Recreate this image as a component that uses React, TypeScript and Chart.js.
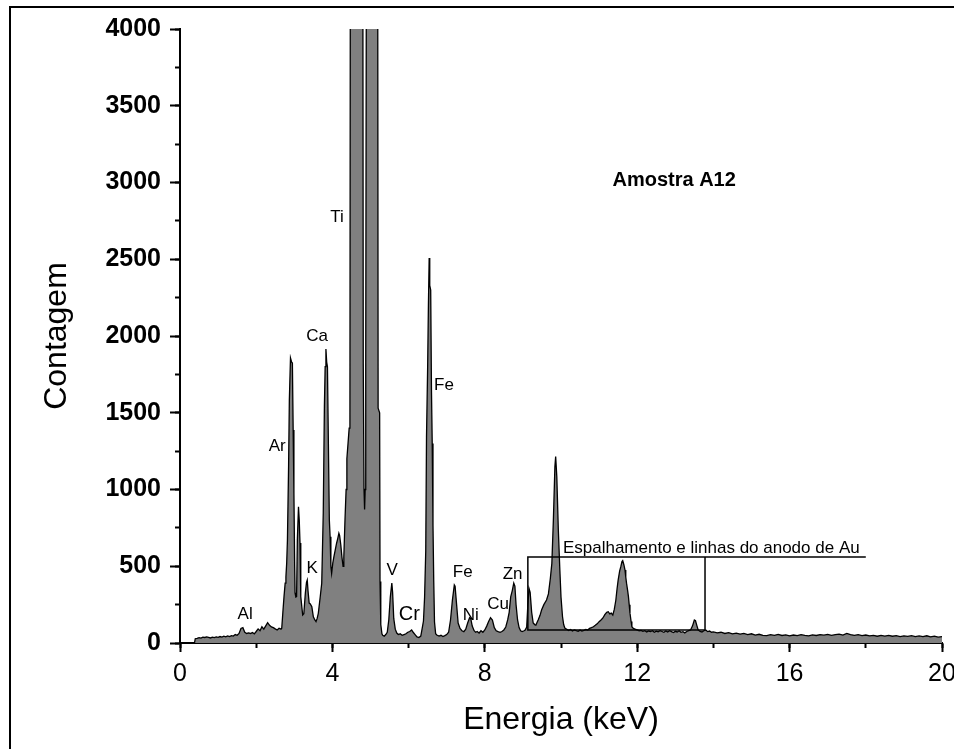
import React, { useEffect, useRef } from 'react';
import { Chart, registerables } from 'chart.js';

Chart.register(...registerables);

// ---- Spectrum data: [energy keV, counts] ----
const spectrumLow: [number, number][] = [
  [0, 0], [0.38, 0], [0.4, 28], [0.45, 30], [0.5, 35], [0.55, 32], [0.6, 38], [0.65, 36], [0.7, 40], [0.75, 37],
  [0.8, 33], [0.85, 38], [0.9, 35], [0.95, 40], [1.0, 37], [1.05, 42], [1.1, 38], [1.15, 44], [1.2, 40], [1.25, 46],
  [1.3, 42], [1.35, 48], [1.4, 45], [1.45, 55], [1.5, 50], [1.55, 62], [1.6, 95], [1.65, 100], [1.7, 70], [1.75, 62],
  [1.8, 66], [1.85, 62], [1.9, 68], [1.95, 60], [2.0, 75], [2.05, 92], [2.1, 80], [2.15, 106], [2.2, 90], [2.25, 112],
  [2.3, 132], [2.35, 115], [2.4, 105], [2.45, 100], [2.5, 92], [2.55, 85], [2.6, 96], [2.65, 90],
];

const spectrumArCa: [number, number][] = [
  [2.67, 96], [2.7, 200], [2.73, 302], [2.76, 390], [2.78, 432], [2.8, 520], [2.82, 671], [2.85, 1149], [2.87, 1583], [2.9, 1857],
  [2.93, 1830], [2.95, 1824], [2.97, 1388], [2.99, 977], [3.01, 500], [3.02, 326], [3.04, 300], [3.06, 302], [3.08, 671], [3.11, 888],
  [3.13, 800], [3.15, 651], [3.17, 302], [3.2, 230], [3.22, 182], [3.25, 190], [3.29, 326], [3.32, 395], [3.34, 410], [3.36, 340],
  [3.39, 260], [3.42, 255], [3.46, 237], [3.5, 171], [3.54, 150], [3.57, 139], [3.6, 160], [3.63, 193], [3.68, 300], [3.72, 389],
  [3.76, 845], [3.79, 1540], [3.81, 1800], [3.83, 1915], [3.85, 1830], [3.87, 1800], [3.9, 1192], [3.92, 800], [3.94, 692], [3.96, 500],
  [3.98, 454], [4.01, 520], [4.04, 562], [4.07, 600], [4.11, 650], [4.14, 680], [4.17, 715], [4.19, 700], [4.22, 640], [4.25, 560],
  [4.28, 500], [4.3, 560], [4.33, 800], [4.36, 1000], [4.38, 1200], [4.41, 1300], [4.44, 1400], [4.46, 1490],
];

const spectrumTi: [number, number][] = [
  [4.47, 4300], [4.5, 8000], [4.55, 9500], [4.62, 9000], [4.7, 7500], [4.78, 5000], [4.8, 4200], [4.81, 1817], [4.83, 1000], [4.845, 870],
  [4.86, 1000], [4.875, 1817], [4.89, 4200], [4.93, 5500], [5.0, 6000], [5.1, 5000], [5.19, 4200], [5.2, 1530], [5.24, 1500], [5.25, 400],
  [5.27, 120], [5.3, 60],
];

const spectrumVFe: [number, number][] = [
  [5.32, 50], [5.36, 45], [5.4, 55], [5.44, 70], [5.48, 150], [5.52, 300], [5.56, 390], [5.58, 330], [5.61, 160], [5.65, 90],
  [5.69, 65], [5.73, 55], [5.78, 60], [5.83, 50], [5.88, 55], [5.93, 60], [5.98, 70], [6.03, 75], [6.08, 85], [6.12, 70],
  [6.17, 55], [6.22, 40], [6.27, 35], [6.32, 45], [6.36, 100], [6.39, 143], [6.42, 300], [6.45, 600], [6.47, 1342], [6.5, 1800],
  [6.52, 2200], [6.54, 2508], [6.555, 2330], [6.58, 2300], [6.6, 1650], [6.62, 1300], [6.64, 769], [6.66, 400], [6.68, 137], [6.71, 60],
  [6.74, 52], [6.8, 45], [6.85, 50], [6.9, 42], [6.95, 48], [7.0, 55], [7.05, 70], [7.1, 150], [7.15, 280], [7.2, 378],
  [7.22, 370], [7.26, 250], [7.3, 130], [7.35, 95], [7.4, 80], [7.45, 74], [7.5, 90], [7.55, 130], [7.6, 165], [7.63, 160],
  [7.67, 110], [7.72, 80], [7.76, 70], [7.8, 75], [7.85, 65], [7.9, 80], [7.95, 70], [8.0, 85], [8.05, 110], [8.1, 140],
  [8.15, 165], [8.2, 150], [8.25, 100], [8.3, 80], [8.35, 74], [8.4, 70], [8.45, 75], [8.5, 85], [8.55, 104], [8.6, 150],
];

const spectrumZnAu: [number, number][] = [
  [8.64, 200], [8.68, 300], [8.72, 340], [8.76, 390], [8.79, 370], [8.82, 250], [8.86, 150], [8.9, 100], [8.94, 80], [8.98, 75],
  [9.02, 78], [9.06, 85], [9.1, 104], [9.13, 250], [9.16, 356], [9.19, 330], [9.23, 200], [9.27, 130], [9.31, 120], [9.34, 117],
  [9.4, 150], [9.45, 180], [9.49, 215], [9.55, 250], [9.62, 280], [9.67, 320], [9.72, 420], [9.76, 519], [9.8, 801], [9.84, 1150],
  [9.86, 1214], [9.89, 1083], [9.93, 736], [9.97, 475], [10.0, 300], [10.04, 171], [10.07, 120], [10.1, 98], [10.15, 90], [10.2, 82],
  [10.25, 88], [10.3, 78], [10.35, 85], [10.4, 80], [10.45, 76], [10.5, 84], [10.55, 78], [10.6, 82], [10.65, 88], [10.7, 85],
  [10.75, 95], [10.8, 100], [10.85, 106], [10.9, 115], [10.95, 125], [11.0, 139], [11.05, 150], [11.1, 163], [11.15, 185], [11.2, 200],
  [11.24, 204], [11.28, 190], [11.32, 195], [11.36, 182], [11.4, 220], [11.44, 280], [11.47, 350], [11.5, 410], [11.54, 470], [11.57, 497],
  [11.6, 530], [11.62, 536], [11.65, 510], [11.68, 475], [11.7, 430], [11.72, 390], [11.75, 340], [11.77, 302], [11.79, 250], [11.81, 195],
  [11.84, 140], [11.86, 106], [11.9, 95], [11.94, 91], [12.0, 85], [12.05, 80], [12.1, 82], [12.15, 76], [12.2, 80], [12.25, 72],
  [12.3, 78], [12.35, 75], [12.4, 80], [12.45, 70], [12.5, 77], [12.55, 73], [12.6, 80], [12.65, 75], [12.7, 70], [12.75, 78],
  [12.8, 72], [12.85, 80], [12.9, 74], [12.95, 68], [13.0, 76], [13.05, 72], [13.1, 80], [13.15, 70], [13.2, 74], [13.25, 66],
  [13.3, 75], [13.35, 80], [13.4, 85], [13.45, 110], [13.5, 150], [13.53, 145], [13.57, 110], [13.6, 85], [13.65, 75], [13.7, 72],
  [13.75, 80], [13.8, 85], [13.85, 74], [13.9, 78], [13.95, 70],
];

const spectrumHigh: [number, number][] = [
  [14.0, 72], [14.1, 66], [14.2, 70], [14.3, 62], [14.4, 68], [14.5, 60], [14.6, 64], [14.7, 58], [14.8, 62], [14.9, 55],
  [15.0, 60], [15.1, 52], [15.2, 57], [15.3, 50], [15.4, 48], [15.5, 54], [15.6, 50], [15.7, 56], [15.8, 49], [15.9, 53],
  [16.0, 47], [16.1, 52], [16.2, 48], [16.3, 55], [16.4, 50], [16.5, 46], [16.6, 53], [16.7, 49], [16.8, 55], [16.9, 51],
  [17.0, 56], [17.1, 50], [17.2, 54], [17.3, 58], [17.4, 52], [17.5, 62], [17.6, 55], [17.7, 50], [17.8, 54], [17.9, 48],
  [18.0, 52], [18.1, 46], [18.2, 50], [18.3, 44], [18.4, 49], [18.5, 45], [18.6, 50], [18.7, 44], [18.8, 48], [18.9, 42],
  [19.0, 47], [19.1, 43], [19.2, 48], [19.3, 41], [19.4, 46], [19.5, 42], [19.6, 47], [19.7, 40], [19.8, 45], [19.9, 38],
  [20.0, 42],
];

// ---- Annotations ----
const elementLabels = ['Al', 'Ar', 'K', 'Ca', 'Ti', 'V', 'Cr', 'Fe', 'Fe', 'Ni', 'Cu', 'Zn'];
const labelEnergy = [1.71, 2.55, 3.47, 3.6, 4.12, 5.57, 6.02, 6.93, 7.42, 7.63, 8.35, 8.73];
const labelCount = [189, 1283, 489, 1995, 2775, 476, 186, 1681, 458, 182, 252, 450];

const sampleTitle = 'Amostra A12';
const sampleTitleAt = [12.97, 3016];

const auText = 'Espalhamento e linhas do anodo de Au';
const auTextAt = [10.05, 619];
const auBoxEnergy = [9.13, 13.78];
const auBoxCount = [85, 560];
const auLineEnd = 18.0;

// ---- Axes ----
const xRange = [0, 20];
const xMajorStep = 4;
const xMinorStep = 2;
const yRange = [0, 4000];
const yMajorStep = 500;
const yMinorStep = 250;

const FONT = "'Liberation Sans', Arial, sans-serif";

const annotationPlugin = {
  id: 'edsAnnotations',
  afterDatasetsDraw(chart: any) {
    const { ctx } = chart;
    const x = chart.scales.x;
    const y = chart.scales.y;
    ctx.save();
    ctx.fillStyle = '#000';
    ctx.textAlign = 'center';
    ctx.textBaseline = 'middle';
    elementLabels.forEach((t, i) => {
      ctx.font = (t === 'Cr' ? '20px ' : '17px ') + FONT;
      ctx.fillText(t, x.getPixelForValue(labelEnergy[i]), y.getPixelForValue(labelCount[i]));
    });
    ctx.font = 'bold 20px ' + FONT;
    ctx.fillText(sampleTitle, x.getPixelForValue(sampleTitleAt[0]), y.getPixelForValue(sampleTitleAt[1]));

    ctx.font = '17px ' + FONT;
    ctx.textAlign = 'left';
    ctx.fillText(auText, x.getPixelForValue(auTextAt[0]), y.getPixelForValue(auTextAt[1]));

    const bx0 = x.getPixelForValue(auBoxEnergy[0]);
    const bx1 = x.getPixelForValue(auBoxEnergy[1]);
    const by0 = y.getPixelForValue(auBoxCount[0]);
    const by1 = y.getPixelForValue(auBoxCount[1]);
    const lx = x.getPixelForValue(auLineEnd);
    ctx.strokeStyle = '#000';
    ctx.lineWidth = 1.5;
    ctx.beginPath();
    ctx.moveTo(lx, by1);
    ctx.lineTo(bx0, by1);
    ctx.lineTo(bx0, by0);
    ctx.lineTo(bx1, by0);
    ctx.lineTo(bx1, by1);
    ctx.stroke();
    ctx.restore();
  },
};

export default function App() {
  const ref = useRef<HTMLCanvasElement>(null);

  useEffect(() => {
    const spectrum = [...spectrumLow, ...spectrumArCa, ...spectrumTi, ...spectrumVFe, ...spectrumZnAu, ...spectrumHigh];
    const chart = new Chart(ref.current as HTMLCanvasElement, {
      type: 'line',
      data: {
        datasets: [
          {
            data: spectrum.map(([e, c]) => ({ x: e, y: c })),
            borderColor: '#000',
            borderWidth: 1.3,
            backgroundColor: '#808080',
            fill: 'origin',
            pointRadius: 0,
            tension: 0,
            xAxisID: 'x',
            yAxisID: 'y',
          },
        ],
      },
      options: {
        animation: false,
        responsive: false,
        events: [],
        layout: { padding: { left: 0, right: 58, top: 29, bottom: 0 } },
        plugins: { legend: { display: false }, tooltip: { enabled: false } },
        scales: {
          x: {
            type: 'linear',
            axis: 'x',
            position: 'bottom',
            weight: 1,
            min: xRange[0],
            max: xRange[1],
            ticks: {
              stepSize: xMajorStep, color: '#000', font: { family: FONT, size: 25 }, padding: 7, maxRotation: 0, autoSkip: false,
              callback: (v: any) => String(v),
            },
            grid: { drawOnChartArea: false, tickLength: 9, tickWidth: 2, tickColor: '#000' },
            border: { display: true, color: '#000', width: 2 },
            title: { display: true, text: 'Energia (keV)', color: '#000', font: { family: FONT, size: 32 }, padding: { top: 0, bottom: 61 } },
            afterFit: (s: any) => { s.height = 157; },
          },
          xMinor: {
            type: 'linear',
            axis: 'x',
            position: 'bottom',
            weight: 0,
            min: xRange[0],
            max: xRange[1],
            ticks: { display: false, stepSize: xMinorStep },
            grid: { drawOnChartArea: false, tickLength: 5, tickWidth: 2, tickColor: '#000' },
            border: { display: false },
            afterFit: (s: any) => { s.height = 0; },
          },
          y: {
            type: 'linear',
            axis: 'y',
            position: 'left',
            weight: 1,
            min: yRange[0],
            max: yRange[1],
            ticks: {
              stepSize: yMajorStep, color: '#000', font: { family: FONT, size: 25, weight: 'bold' }, padding: 9,
              callback: (v: any) => String(v),
            },
            grid: { drawOnChartArea: false, tickLength: 10, tickWidth: 2, tickColor: '#000' },
            border: { display: true, color: '#000', width: 2 },
            title: { display: true, text: 'Contagem', color: '#000', font: { family: FONT, size: 32 }, padding: { top: 38, bottom: 0 } },
            afterFit: (s: any) => { s.width = 180; },
          },
          yMinor: {
            type: 'linear',
            axis: 'y',
            position: 'left',
            weight: 0,
            min: yRange[0],
            max: yRange[1],
            ticks: { display: false, stepSize: yMinorStep },
            grid: { drawOnChartArea: false, tickLength: 5, tickWidth: 2, tickColor: '#000' },
            border: { display: false },
            afterFit: (s: any) => { s.width = 0; },
          },
        },
      } as any,
      plugins: [annotationPlugin],
    });
    return () => chart.destroy();
  }, []);

  return (
    <div style={{ position: 'fixed', left: 0, top: 0, width: 954, height: 749, overflow: 'hidden', background: '#fff' }}>
      <div style={{ position: 'absolute', left: 9, top: 6, width: 1200, height: 1000, borderLeft: '2px solid #000', borderTop: '2px solid #000' }} />
      <canvas ref={ref} width={1000} height={800} style={{ position: 'absolute', left: 0, top: 0, width: 1000, height: 800 }} />
    </div>
  );
}
